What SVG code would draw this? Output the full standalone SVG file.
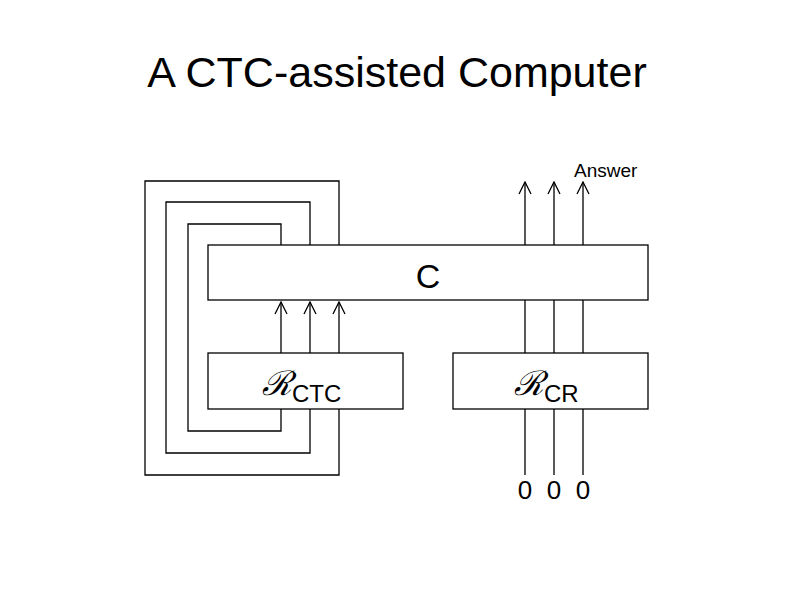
<svg xmlns="http://www.w3.org/2000/svg" width="794" height="595" viewBox="0 0 794 595">
<defs><marker id="a" markerWidth="14" markerHeight="14" refX="13" refY="7" orient="auto" markerUnits="userSpaceOnUse" viewBox="0 0 14 14"><path d="M1,1 L13,7 L1,13" fill="none" stroke="#000" stroke-width="1.3"/></marker></defs>
<style>.b{fill:#fff;stroke:#000;stroke-width:1.3}.l{fill:none;stroke:#000;stroke-width:1.3}.t{font-family:"Liberation Sans",Arial,sans-serif;fill:#000}.r{font-family:"DejaVu Serif","Liberation Serif",serif;font-style:italic;fill:#000}</style>
<rect width="794" height="595" fill="#fff"/>
<text class="t" x="397" y="87" font-size="43" text-anchor="middle">A CTC-assisted Computer</text>
<g id="connectors">
<path class="l" d="M339,245 V181 H145 V475 H339 V409"/>
<path class="l" d="M310,245 V202 H166 V453 H310 V409"/>
<path class="l" d="M281,245 V224 H188 V431 H281 V409"/>
<path class="l" d="M281,353 V302" marker-end="url(#a)"/>
<path class="l" d="M310,353 V302" marker-end="url(#a)"/>
<path class="l" d="M339,353 V302" marker-end="url(#a)"/>
<path class="l" d="M525,245 V182" marker-end="url(#a)"/>
<path class="l" d="M554,245 V182" marker-end="url(#a)"/>
<path class="l" d="M583,245 V182" marker-end="url(#a)"/>
<path class="l" d="M525,300 V353 M554,300 V353 M583,300 V353"/>
<path class="l" d="M525,409 V475 M554,409 V475 M583,409 V475"/>
</g>
<g id="C"><rect class="b" x="208" y="245" width="440" height="55"/><text class="t" x="428" y="288" font-size="34" text-anchor="middle">C</text></g>
<g id="RCTC"><rect class="b" x="208" y="353" width="195" height="56"/><text x="262" y="395"><tspan class="r" font-size="34">ℛ</tspan><tspan class="t" font-size="24" dy="7">CTC</tspan></text></g>
<g id="RCR"><rect class="b" x="453" y="353" width="195" height="56"/><text x="514" y="395"><tspan class="r" font-size="34">ℛ</tspan><tspan class="t" font-size="24" dy="7">CR</tspan></text></g>
<text class="t" x="574" y="177" font-size="19">Answer</text>
<text class="t" font-size="26" text-anchor="middle" y="499"><tspan x="525">0</tspan><tspan x="554">0</tspan><tspan x="583">0</tspan></text>
</svg>
